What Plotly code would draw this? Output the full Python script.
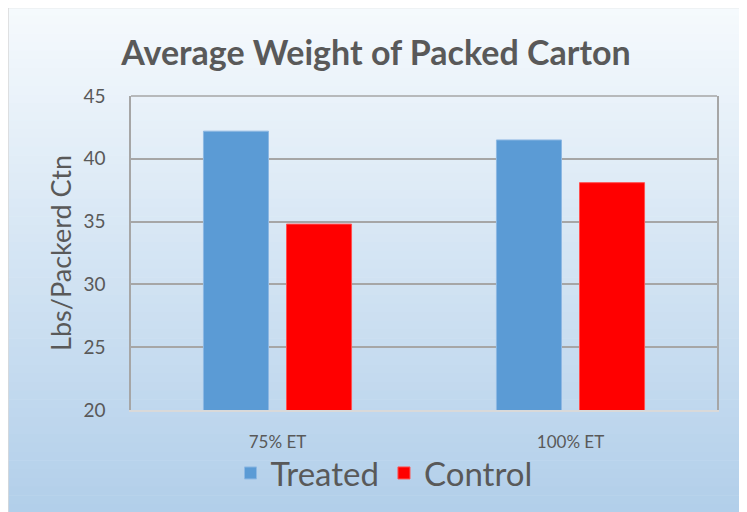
import plotly.graph_objects as go

categories = ["75% ET", "100% ET"]
treated = [42.2, 41.5]
control = [34.8, 38.1]
y_ticks = [20, 25, 30, 35, 40, 45]

W, H = 747, 512
OFF = 8  # page body margin offset
L, R, T, B = 131 - OFF, 717 - OFF, 96 - OFF, 410 - OFF  # plot area in figure px

def px_x(px):
    return (px - OFF - L) / (R - L)

def px_y(py):
    return (B - (py - OFF)) / (B - T)

fig = go.Figure()
fig.add_trace(go.Bar(name="Treated", x=categories, y=treated,
                     marker=dict(color="#5B9BD5", line=dict(color="#8DB8E3", width=1))))
fig.add_trace(go.Bar(name="Control", x=categories, y=control,
                     marker=dict(color="#FF0000", line=dict(color="#FF5050", width=1))))

# background gradient inside chart frame (screen px coordinates)
shapes = []
top_c = (246, 250, 253)
bot_c = (175, 205, 233)
fx0, fx1, fy0, fy1 = 8, 740, 7, 530
n = 60
for i in range(n):
    t = (i + 0.5) / n
    c = tuple(int(round(top_c[k] + (bot_c[k] - top_c[k]) * t)) for k in range(3))
    y0 = fy0 + (fy1 - fy0) * i / n
    y1 = fy0 + (fy1 - fy0) * (i + 1) / n + 0.6
    shapes.append(dict(type="rect", xref="paper", yref="paper", x0=px_x(fx0), x1=px_x(fx1),
                       y0=px_y(y0), y1=px_y(y1), fillcolor="rgb(%d,%d,%d)" % c,
                       line=dict(width=0), layer="below"))
# frame border
shapes.append(dict(type="rect", xref="paper", yref="paper", x0=px_x(fx0), x1=px_x(fx1),
                   y0=px_y(fy0 + 0.5), y1=px_y(fy1), fillcolor="rgba(0,0,0,0)",
                   line=dict(color="#D9D9D9", width=1.5), layer="below"))
# top border of plot area
shapes.append(dict(type="line", xref="x domain", yref="y domain", x0=0, x1=1, y0=1, y1=1,
                   line=dict(color="#A6A6A6", width=1.5), layer="below"))

font_family = "Lato, 'Open Sans', sans-serif"
txt = "#595959"

fig.update_layout(
    width=W, height=H,
    margin=dict(l=L, r=W - R, t=T, b=H - B, autoexpand=False),
    paper_bgcolor="white",
    plot_bgcolor="rgba(0,0,0,0)",
    barmode="group",
    bargap=0.433,
    bargroupgap=0.217,
    shapes=shapes,
    font=dict(family=font_family, color=txt),
    title=dict(text="<b>Average Weight of Packed Carton</b>", x=(376 - OFF) / W, xanchor="center",
               y=1 - (53 - OFF) / H, yanchor="middle", font=dict(size=34, color=txt, family=font_family)),
    showlegend=True,
    legend=dict(orientation="h", x=px_x(384), xanchor="center", y=px_y(473), yanchor="middle",
                font=dict(size=33, color=txt), bgcolor="rgba(0,0,0,0)", itemwidth=30,
                tracegroupgap=0),
    xaxis=dict(showline=True, linecolor="#D9D9D9", linewidth=2, ticks="outside", ticklen=16,
               tickcolor="rgba(0,0,0,0)", tickfont=dict(size=17, color=txt), showgrid=False),
    yaxis=dict(range=[20, 45], tickvals=y_ticks, showline=True, mirror=True, linecolor="#A6A6A6",
               linewidth=1.5, showgrid=True, gridcolor="#A6A6A6", gridwidth=1.5, zeroline=False,
               ticks="outside", ticklen=20, tickcolor="rgba(0,0,0,0)",
               tickfont=dict(size=19, color=txt),
               title=dict(text="Lbs/Packerd Ctn", font=dict(size=27, color=txt), standoff=4)),
)

fig.write_html("out.html")
